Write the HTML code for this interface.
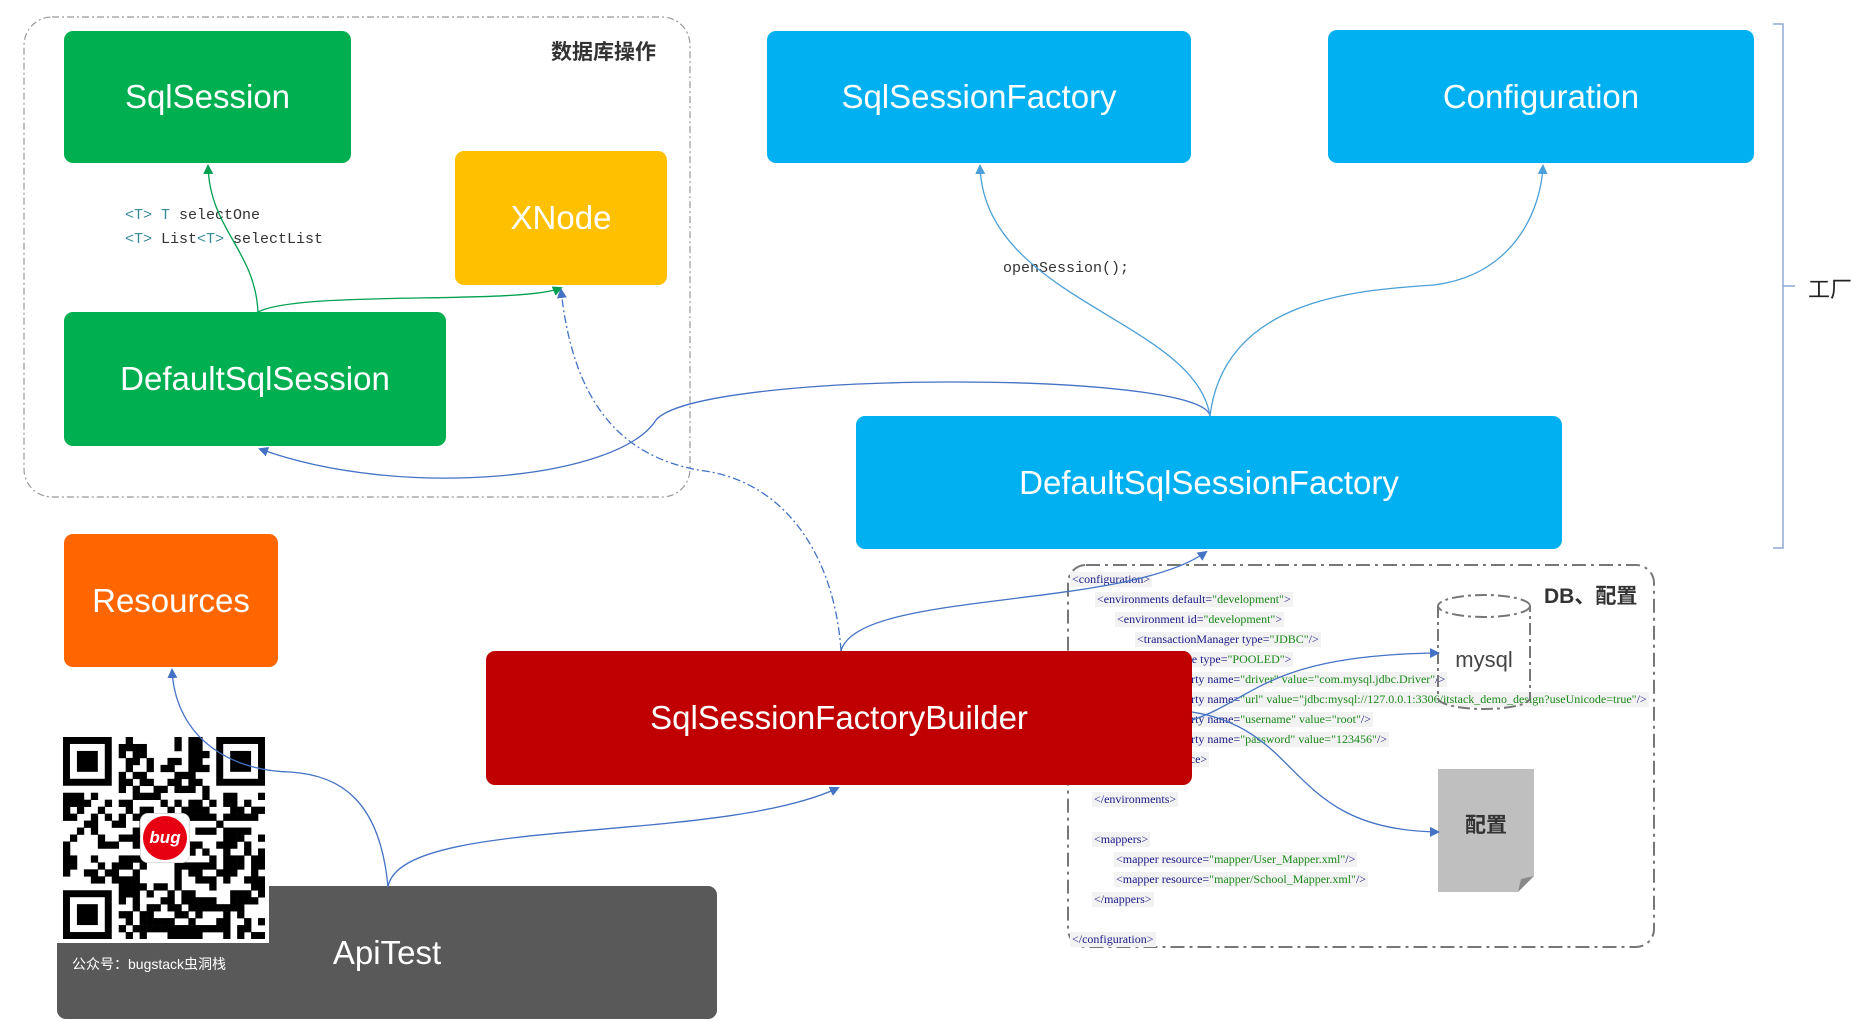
<!DOCTYPE html>
<html><head><meta charset="utf-8">
<style>
*{margin:0;padding:0;box-sizing:border-box}
body{width:1875px;height:1021px;background:#fff;position:relative;overflow:hidden;font-family:"Liberation Sans","Noto Sans CJK SC",sans-serif}
.b{position:absolute;border-radius:9px;color:#fff;font-size:33px;display:flex;align-items:center;justify-content:center;font-family:"Liberation Sans","Noto Sans CJK SC",sans-serif}
.g{background:#00b050}.bl{background:#00b0f0}
.code{position:absolute;font-family:"Liberation Serif","Noto Serif CJK SC",serif;font-size:12px;color:#1a1a8a;background:#f2f2f2;white-space:pre;line-height:15px;padding:0 2px}
.code i{font-style:normal;color:#1a8a1a}
svg{position:absolute;left:0;top:0}
</style></head><body>
<svg width="1875" height="1021" style="z-index:0">
<rect x="24" y="17" width="666" height="480" rx="28" fill="none" stroke="#999" stroke-width="1.2" stroke-dasharray="7,3,2,3"/>
<rect x="1068" y="565" width="586" height="382" rx="18" fill="none" stroke="#777" stroke-width="2" stroke-dasharray="14,5,3,5"/>
<path d="M1773,24 H1783 V548 H1773 M1783,286 H1795" fill="none" stroke="#8fa9d6" stroke-width="1.5"/>
</svg>
<div style="position:absolute;left:551px;top:36px;font-size:21px;font-weight:bold;color:#333">数据库操作</div>
<div style="position:absolute;left:1808px;top:272px;font-size:22px;color:#222">工厂</div>
<div style="position:absolute;left:1544px;top:580px;font-size:21px;font-weight:bold;color:#333">DB、配置</div>

<div class="code" style="left:1070px;top:572px">&lt;configuration&gt;</div>
<div class="code" style="left:1095px;top:592px">&lt;environments default=<i>"development"</i>&gt;</div>
<div class="code" style="left:1115px;top:612px">&lt;environment id=<i>"development"</i>&gt;</div>
<div class="code" style="left:1135px;top:632px">&lt;transactionManager type=<i>"JDBC"</i>/&gt;</div>
<div class="code" style="left:1135px;top:652px">&lt;dataSource type=<i>"POOLED"</i>&gt;</div>
<div class="code" style="left:1155px;top:672px">&lt;property name=<i>"driver" value="com.mysql.jdbc.Driver"</i>/&gt;</div>
<div class="code" style="left:1155px;top:692px">&lt;property name=<i>"url" value="jdbc:mysql://127.0.0.1:3306/itstack_demo_design?useUnicode=true"</i>/&gt;</div>
<div class="code" style="left:1155px;top:712px">&lt;property name=<i>"username" value="root"</i>/&gt;</div>
<div class="code" style="left:1155px;top:732px">&lt;property name=<i>"password" value="123456"</i>/&gt;</div>
<div class="code" style="left:1135px;top:752px">&lt;/dataSource&gt;</div>
<div class="code" style="left:1092px;top:792px">&lt;/environments&gt;</div>
<div class="code" style="left:1092px;top:832px">&lt;mappers&gt;</div>
<div class="code" style="left:1114px;top:852px">&lt;mapper resource=<i>"mapper/User_Mapper.xml"</i>/&gt;</div>
<div class="code" style="left:1114px;top:872px">&lt;mapper resource=<i>"mapper/School_Mapper.xml"</i>/&gt;</div>
<div class="code" style="left:1092px;top:892px">&lt;/mappers&gt;</div>
<div class="code" style="left:1070px;top:932px">&lt;/configuration&gt;</div>

<svg width="1875" height="1021" style="z-index:1">
<ellipse cx="1484" cy="606" rx="46" ry="11" fill="#fff" stroke="#777" stroke-width="2" stroke-dasharray="12,4,3,4"/>
<path d="M1438,606 V698 A46,11 0 0 0 1530,698 V606" fill="none" stroke="#777" stroke-width="2" stroke-dasharray="12,4,3,4"/>
<text x="1484" y="667" font-size="22" fill="#444" text-anchor="middle" font-family="Liberation Sans,sans-serif">mysql</text>
<path d="M1438,769 H1534 V876 L1518,892 H1438 Z" fill="#bfbfbf"/>
<path d="M1518,892 L1521,879 L1534,876 Z" fill="#8a8a8a"/>
<text x="1486" y="832" font-size="21" font-weight="bold" fill="#333" text-anchor="middle" font-family="Noto Sans CJK SC,sans-serif">配置</text>
</svg>

<div class="b g" style="left:64px;top:31px;width:287px;height:132px">SqlSession</div>
<div class="b" style="left:455px;top:151px;width:212px;height:134px;background:#ffc000">XNode</div>
<div class="b g" style="left:64px;top:312px;width:382px;height:134px">DefaultSqlSession</div>
<div class="b bl" style="left:767px;top:31px;width:424px;height:132px">SqlSessionFactory</div>
<div class="b bl" style="left:1328px;top:30px;width:426px;height:133px">Configuration</div>
<div class="b bl" style="left:856px;top:416px;width:706px;height:133px">DefaultSqlSessionFactory</div>
<div class="b" style="left:64px;top:534px;width:214px;height:133px;background:#ff6600">Resources</div>
<div class="b" style="left:486px;top:651px;width:706px;height:134px;background:#c00000;z-index:2">SqlSessionFactoryBuilder</div>
<div class="b" style="left:57px;top:886px;width:660px;height:133px;background:#595959">ApiTest</div>

<div style="position:absolute;left:57px;top:733px;width:212px;height:210px;background:#fff;z-index:3"></div>
<svg id="qr" width="202" height="202" style="left:63px;top:737px;z-index:4"></svg>
<div style="position:absolute;left:140px;top:813px;width:50px;height:50px;border-radius:8px;background:#fff;border:1px solid #ddd;z-index:5;display:flex;align-items:center;justify-content:center"><div style="width:44px;height:44px;border-radius:50%;background:#e60012;color:#fff;font-weight:bold;font-style:italic;font-size:17px;display:flex;align-items:center;justify-content:center">bug</div></div>
<div style="position:absolute;left:72px;top:954px;font-size:14px;color:#fff;z-index:5">公众号：bugstack虫洞栈</div>

<div style="position:absolute;left:125px;top:204px;font-family:'Liberation Mono',monospace;font-size:15px;line-height:24px;color:#333;z-index:6;white-space:pre"><span style="color:#3a8a9a">&lt;T&gt; T</span> selectOne
<span style="color:#3a8a9a">&lt;T&gt;</span> List<span style="color:#3a8a9a">&lt;T&gt;</span> selectList</div>
<div style="position:absolute;left:1003px;top:260px;font-family:'Liberation Mono',monospace;font-size:15px;color:#333;z-index:6">openSession();</div>

<svg width="1875" height="1021" style="z-index:7">
<defs>
<marker id="ag" markerWidth="10" markerHeight="10" refX="8" refY="5" orient="auto" markerUnits="userSpaceOnUse"><path d="M0,0 L10,5 L0,10 Z" fill="#00a050"/></marker>
<marker id="ab" markerWidth="10" markerHeight="10" refX="8" refY="5" orient="auto" markerUnits="userSpaceOnUse"><path d="M0,0 L10,5 L0,10 Z" fill="#4472c4"/></marker>
<marker id="ac" markerWidth="10" markerHeight="10" refX="8" refY="5" orient="auto" markerUnits="userSpaceOnUse"><path d="M0,0 L10,5 L0,10 Z" fill="#4a9fd8"/></marker>
</defs>
<g fill="none" stroke-width="1.3">
<path d="M258,312 C255,250 210,230 208,166" stroke="#00a050" marker-end="url(#ag)"/>
<path d="M258,312 C300,290 520,305 561,288" stroke="#00a050" marker-end="url(#ag)"/>
<path d="M841,651 C835,560 788,480 698,470 C618,455 573,400 561,290" stroke="#4472c4" stroke-dasharray="8,3,2,3" marker-end="url(#ab)"/>
<path d="M1210,416 C1204,370 698,370 656,420 C618,480 400,500 260,449" stroke="#4472c4" marker-end="url(#ab)"/>
<path d="M1210,416 C1195,320 984,300 980,166" stroke="#4a9fd8" marker-end="url(#ac)"/>
<path d="M1210,416 C1224,300 1354,290 1434,285 C1514,275 1541,210 1543,166" stroke="#4a9fd8" marker-end="url(#ac)"/>
<path d="M841,651 C857,590 1125,610 1206,552" stroke="#4472c4" marker-end="url(#ab)"/>
<path d="M388,887 C400,815 716,845 838,788" stroke="#4472c4" marker-end="url(#ab)"/>
<path d="M388,887 C380,800 340,775 290,772 C220,770 175,730 172,670" stroke="#4472c4" marker-end="url(#ab)"/>
<path d="M1192,720 C1254,700 1266,655 1438,653" stroke="#4472c4" marker-end="url(#ab)"/>
<path d="M1192,712 C1306,730 1286,830 1438,832" stroke="#4472c4" marker-end="url(#ab)"/>
</g>
</svg>
<script>
(function(){
var s=document.getElementById('qr'),n=29,c=202/n,h='',seed=7;
function r(){seed=(seed*1103515245+12345)&0x7fffffff;return seed/0x7fffffff;}
function f(x,y){return (x<8&&y<8)||(x>n-9&&y<8)||(x<8&&y>n-9);}
for(var y=0;y<n;y++)for(var x=0;x<n;x++){if(f(x,y))continue;if(r()<0.5)h+='<rect x="'+(x*c).toFixed(2)+'" y="'+(y*c).toFixed(2)+'" width="'+(c+0.3).toFixed(2)+'" height="'+(c+0.3).toFixed(2)+'"/>';}
[[0,0],[n-7,0],[0,n-7]].forEach(function(p){var X=p[0]*c,Y=p[1]*c;h+='<rect x="'+(X+c/2)+'" y="'+(Y+c/2)+'" width="'+(6*c)+'" height="'+(6*c)+'" fill="none" stroke="#000" stroke-width="'+c+'"/><rect x="'+(X+2*c)+'" y="'+(Y+2*c)+'" width="'+(3*c)+'" height="'+(3*c)+'"/>';});
s.innerHTML=h;
})();
</script>
</body></html>
